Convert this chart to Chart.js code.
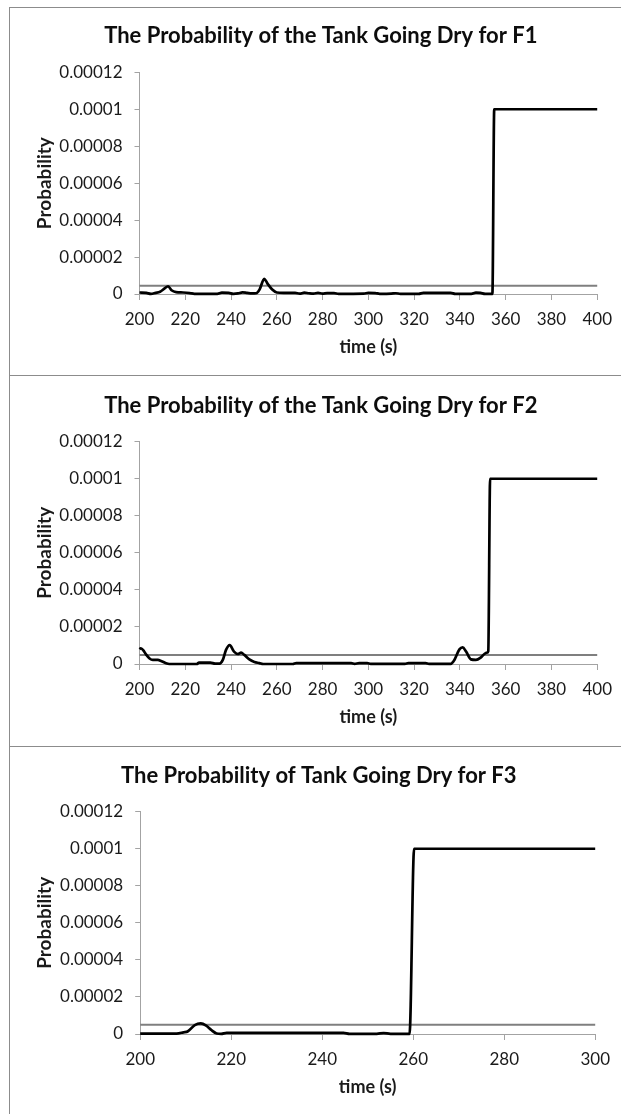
<!DOCTYPE html>
<html>
<head>
<meta charset="utf-8">
<script src="https://cdn.jsdelivr.net/npm/chart.js@4.4.1/dist/chart.umd.min.js"></script>
<style>
  html, body { margin: 0; padding: 0; background: #fff; overflow: hidden; width: 621px; height: 1114px; }
  .painel { position: absolute; left: 9px; width: 640px; border-top: 1px solid #8c8c8c; border-left: 1px solid #8c8c8c; background: #fff; }
  .painel canvas { display: block; }
</style>
</head>
<body>
<div class="painel" style="top:7px;height:367px"><canvas id="graficoF1" width="611" height="367"></canvas></div>
<div class="painel" style="top:375px;height:370px"><canvas id="graficoF2" width="611" height="370"></canvas></div>
<div class="painel" style="top:746px;height:368px"><canvas id="graficoF3" width="611" height="367"></canvas></div>
<script>
/* ==========================
   Data (probabilities are given in units of 1e-6)
   ========================== */
const UNIT = 1e-6;

const yTicks = [0, 0.00002, 0.00004, 0.00006, 0.00008, 0.0001, 0.00012];
const yTickLabels = ["0", "0.00002", "0.00004", "0.00006", "0.00008", "0.0001", "0.00012"];

const xTicksLong = [200, 220, 240, 260, 280, 300, 320, 340, 360, 380, 400];
const xTicksShort = [200, 220, 240, 260, 280, 300];

// F1
const f1Time = [200, 203, 205, 207, 209, 211, 212.5, 214, 216, 219, 222, 224, 234, 236, 239,
  241, 243, 245, 247, 249, 251, 252.5, 254.5, 256, 258, 260, 263, 268, 270, 272,
  274, 276, 278, 280, 282, 285, 287, 298, 300, 303, 305, 310, 312, 314, 322,
  324, 336, 338, 345, 347, 349, 351, 354.2, 355, 400];
const f1Prob = [0.8, 0.6, 0.1, 0.6, 1.2, 3.0, 4.2, 2.0, 1.0, 0.8, 0.5, 0.1, 0.1, 0.7, 0.6,
  0.1, 0.3, 0.9, 0.6, 0.3, 0.4, 2.5, 8.2, 5.5, 2.4, 0.8, 0.6, 0.6, 0.2, 0.7,
  0.4, 0.2, 0.6, 0.2, 0.5, 0.5, 0.1, 0.2, 0.6, 0.5, 0.1, 0.2, 0.4, 0.1, 0.1,
  0.6, 0.6, 0.1, 0.1, 0.7, 0.6, 0.1, 0.1, 100, 100];
const f1Limit = 4.4;

// F2
const f2Time = [200, 200.5, 201.5, 203, 204.4, 205.8, 208, 209.5, 211.6, 213,
  225, 226, 231, 233, 235, 236.4, 237.8, 239.4, 241.3, 243,
  244.4, 245.8, 248, 250.2, 252.4, 254, 267, 268.5, 292.5, 294,
  296, 299.5, 301, 316, 317.5, 325, 326.5, 336, 337.6, 339.8,
  341.2, 342.7, 344.8, 347, 349.2, 350.7, 351.8, 352.4, 353.2, 400];
const f2Prob = [8.0, 8.5, 7.6, 4.9, 3.0, 2.2, 2.2, 1.6, 0.4, 0.0,
  0.0, 0.7, 0.7, 0.2, 0.2, 2.2, 7.6, 10.2, 6.7, 5.4,
  6.1, 4.9, 2.5, 1.1, 0.5, 0.0, 0.0, 0.5, 0.5, 0.1,
  0.5, 0.5, 0.1, 0.1, 0.5, 0.5, 0.1, 0.1, 2.2, 7.9,
  9.0, 6.7, 2.5, 2.2, 3.6, 5.4, 6.1, 7.0, 100, 100];
const f2Limit = 4.9;

// F3
const f3Time = [200, 208, 209.5, 210.5, 212, 213.3, 214.5, 215.6, 216.8, 217.8,
  219, 244.7, 246, 252, 253.5, 255, 259.2, 260.2, 300];
const f3Prob = [0.2, 0.2, 0.9, 1.5, 4.8, 5.7, 4.5, 2.2, 0.3, 0.1,
  0.6, 0.6, 0.1, 0.1, 0.5, 0.1, 0.1, 100, 100];
const f3Limit = 5.0;

/* ==========================
   Styles
   ========================== */
Chart.defaults.font.family = "Lato, 'Open Sans', sans-serif";
const TEXT = "#1a1a1a";
const AXIS = "#a3a3a3";
const TITLE_SIZE = 22;
const TICK_SIZE = 17;
const X_TITLE_SIZE = 18;
const Y_TITLE_SIZE = 19;

/* --------------------------
   Build one panel
   -------------------------- */
function buildPanel(canvasId, p) {
  const canvas = document.getElementById(canvasId);
  const W = canvas.width;
  const H = canvas.height;
  // positions below are the centre of each text, so take off half a line
  const halfTitle = (TITLE_SIZE * 1.2) / 2;
  const halfX = (X_TITLE_SIZE * 1.2) / 2;
  const halfY = (Y_TITLE_SIZE * 1.2) / 2;

  return new Chart(canvas.getContext("2d"), {
    type: "line",
    data: {
      datasets: [
        {
          data: p.time.map((t, i) => ({ x: t, y: p.prob[i] * UNIT })),
          borderColor: "#000",
          borderWidth: 2.7,
          pointRadius: 0,
          cubicInterpolationMode: "monotone",
          clip: false,
        },
        {
          data: [
            { x: p.xTicks[0], y: p.limit * UNIT },
            { x: p.xTicks[p.xTicks.length - 1], y: p.limit * UNIT },
          ],
          borderColor: "#7f7f7f",
          borderWidth: 2,
          pointRadius: 0,
          clip: false,
        },
      ],
    },
    options: {
      responsive: false,
      animation: false,
      devicePixelRatio: 1,
      layout: {
        autoPadding: false,
        padding: { left: p.padLeft, right: W - p.right, top: 0, bottom: 0 },
      },
      plugins: {
        legend: { display: false },
        tooltip: { enabled: false },
        title: {
          display: true,
          text: p.title,
          color: "#0d0d0d",
          font: { size: TITLE_SIZE, weight: "bold" },
          padding: { top: p.titleY - halfTitle, bottom: p.top - p.titleY - halfTitle },
        },
      },
      scales: {
        x: {
          type: "linear",
          min: p.xTicks[0],
          max: p.xTicks[p.xTicks.length - 1],
          afterBuildTicks: (s) => { s.ticks = p.xTicks.map((v) => ({ value: v })); },
          afterFit: (s) => { s.height = H - p.bottom; },
          ticks: { color: TEXT, font: { size: TICK_SIZE }, padding: 9, maxRotation: 0, autoSkip: false },
          grid: { display: true, drawOnChartArea: false, tickLength: 6, color: AXIS },
          border: { color: AXIS },
          title: {
            display: true,
            text: "time (s)",
            color: TEXT,
            font: { size: X_TITLE_SIZE, weight: "bold" },
            padding: { top: 0, bottom: H - p.xTitleY - halfX },
          },
        },
        y: {
          min: 0,
          max: 0.00012,
          afterBuildTicks: (s) => { s.ticks = yTicks.map((v) => ({ value: v })); },
          afterFit: (s) => { s.width = p.left - p.padLeft; },
          ticks: {
            color: TEXT,
            font: { size: TICK_SIZE },
            padding: 12,
            callback: (v, i) => yTickLabels[i],
          },
          grid: { display: true, drawOnChartArea: false, tickLength: 5, color: AXIS },
          border: { color: AXIS },
          title: {
            display: true,
            text: "Probability",
            color: TEXT,
            font: { size: Y_TITLE_SIZE, weight: "bold" },
            padding: { top: p.yTitleX - p.padLeft - halfY, bottom: 0 },
          },
        },
      },
    },
  });
}

/* ==========================
   Panels
   ========================== */
buildPanel("graficoF1", {
  title: "The Probability of the Tank Going Dry for F1",
  time: f1Time, prob: f1Prob, limit: f1Limit, xTicks: xTicksLong,
  left: 129.5, right: 587.5, top: 64.3, bottom: 286, padLeft: 34.1,
  titleY: 28, yTitleX: 34.6, xTitleY: 339,
});

buildPanel("graficoF2", {
  title: "The Probability of the Tank Going Dry for F2",
  time: f2Time, prob: f2Prob, limit: f2Limit, xTicks: xTicksLong,
  left: 129.5, right: 587.5, top: 65.7, bottom: 288, padLeft: 34.1,
  titleY: 30, yTitleX: 34.6, xTitleY: 341,
});

buildPanel("graficoF3", {
  title: "The Probability of Tank Going Dry for F3",
  time: f3Time, prob: f3Prob, limit: f3Limit, xTicks: xTicksShort,
  left: 130.2, right: 585.2, top: 64.7, bottom: 287, padLeft: 32.4,
  titleY: 29, yTitleX: 34.6, xTitleY: 340,
});
</script>
</body>
</html>
